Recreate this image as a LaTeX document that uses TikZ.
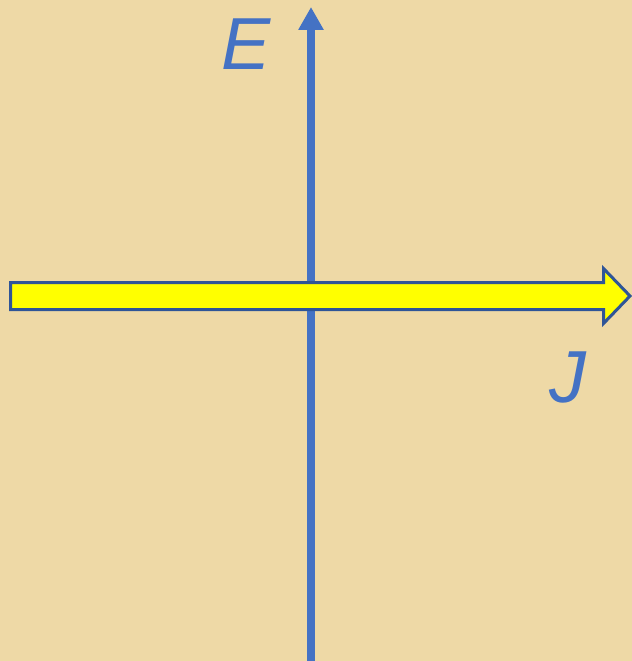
\documentclass[tikz,border=0pt]{standalone}
\usepackage{fontspec}
\setmainfont{Liberation Sans}
\usepackage{xcolor}
\definecolor{papyrus}{RGB}{238,217,166}
\definecolor{axisblue}{RGB}{68,114,196}
\definecolor{rimblue}{RGB}{47,85,151}
\definecolor{beamyellow}{RGB}{255,255,0}
\usetikzlibrary{
  arrows.meta,
  positioning
}

\begin{document}
\begin{tikzpicture}[x=1bp,y=-1bp,>=Latex]
  \tikzset{
    axis line/.style={
      line width=8bp, axisblue,
      arrows={-Triangle[width=24bp,length=23bp]}
    },
    beam/.style={
      fill=beamyellow, draw=rimblue, line width=3bp, line join=miter
    },
    axis label/.style={
      text=axisblue, inner sep=0pt,
      font=\fontsize{74}{74}\selectfont\itshape
    },
  }

  % background
  \fill[papyrus] (0,0) rectangle (632,661);
  \useasboundingbox (0,0) rectangle (632,661);

  \coordinate (bottom) at (311,661);
  \coordinate (top) at (311,7);
  \draw[axis line] (bottom) -- (top);

  % yellow arrow over the axis
  \draw[beam] (10.5,282.5) -- (603.5,282.5) -- (603.5,268.5) -- (630,296)
    -- (603.5,323.5) -- (603.5,309.5) -- (10.5,309.5) -- cycle;

  \node[axis label] (E) at (246,44) {E};
  \node[axis label] (J) at (568,377) {J};

\end{tikzpicture}
\end{document}
